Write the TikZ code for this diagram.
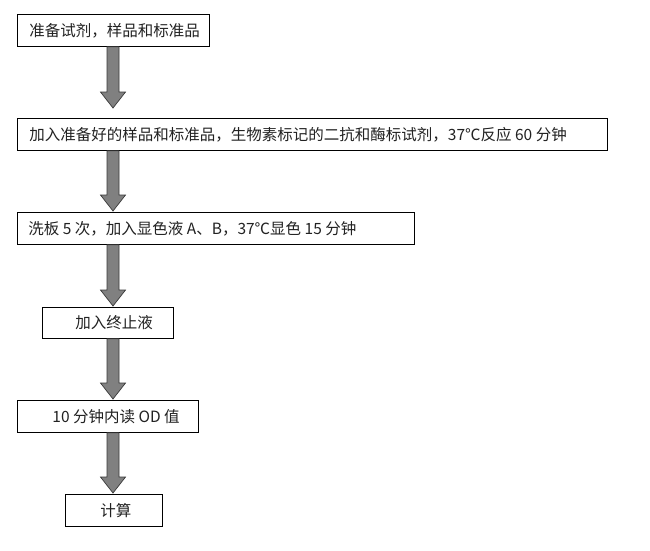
\documentclass[tikz,border=0pt]{standalone}
\usepackage{fontspec}
\setmainfont{Noto Sans CJK SC}
\usetikzlibrary{calc}
\definecolor{arrowfill}{HTML}{808080}
\definecolor{arrowline}{HTML}{3A3A3A}
\definecolor{txt}{HTML}{222222}
\newcommand{\blockarr}[3]{%
  \filldraw[fill=arrowfill, draw=arrowline, line width=0.7pt, line join=miter]
    let \p1=(#1.south -| ax), \p2=(#2.north -| ax) in
    (\x1-6pt,\y1) -- (\x1+6pt,\y1) -- (\x1+6pt,\y2+#3+16pt) -- (\x1+12.5pt,\y2+#3+16pt)
    -- (\x1,\y2+#3) -- (\x1-12.5pt,\y2+#3+16pt) -- (\x1-6pt,\y2+#3+16pt) -- cycle;}
\begin{document}
\begin{tikzpicture}[x=1pt,y=-1pt,
  box/.style={draw=black, line width=0.8pt, inner sep=0pt, anchor=north west,
    minimum height=32pt, font=\fontsize{15.5}{16}\selectfont, text=txt}]
\useasboundingbox[fill=white] (0,0) rectangle (650,550);
\coordinate (ax) at (113,0);
\node[box] (b1) at (17,14) {\makebox[192pt][l]{\hspace{12pt}准备试剂，样品和标准品}};
\node[box] (b2) at (17,118) {\makebox[590pt][l]{\hspace{12pt}加入准备好的样品和标准品，生物素标记的二抗和酶标试剂，37℃反应 60 分钟}};
\node[box] (b3) at (17,212) {\makebox[397pt][l]{\hspace{11pt}洗板 5 次，加入显色液 A、B，37℃显色 15 分钟}};
\node[box, minimum height=31pt] (b4) at (42,307) {\makebox[131pt][l]{\hspace{33pt}加入终止液}};
\node[box] (b5) at (17,400) {\makebox[181pt][l]{\hspace{35pt}10 分钟内读 OD 值}};
\node[box] (b6) at (65,494) {\makebox[97pt][l]{\hspace{35pt}计算}};
\blockarr{b1}{b2}{10pt}
\blockarr{b2}{b3}{1pt}
\blockarr{b3}{b4}{1pt}
\blockarr{b4}{b5}{1pt}
\blockarr{b5}{b6}{1pt}
\end{tikzpicture}
\end{document}
